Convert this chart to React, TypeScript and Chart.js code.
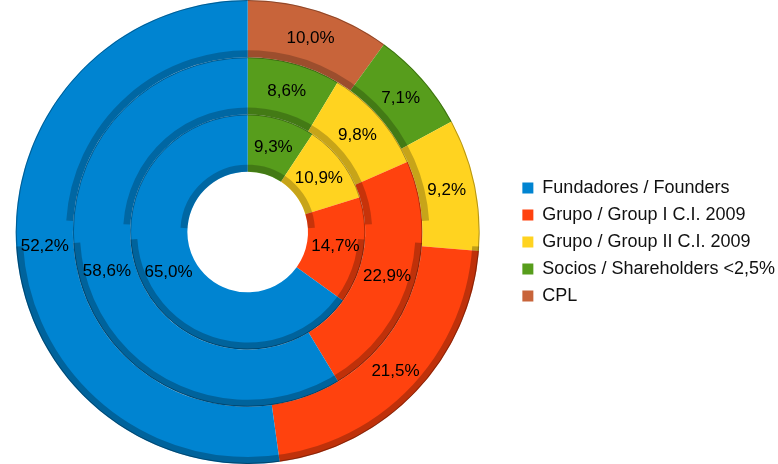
import React, { useEffect, useRef } from 'react';
import { Chart, registerables } from 'chart.js';

Chart.register(...registerables);

const categories = [
  'Fundadores / Founders',
  'Grupo / Group I C.I. 2009',
  'Grupo / Group II C.I. 2009',
  'Socios / Shareholders <2,5%',
  'CPL',
];
const colors = ['#0084d1', '#ff420e', '#ffd320', '#579d1c', '#c8643a'];
const outerValues = [52.2, 21.5, 9.2, 7.1, 10.0];
const middleValues = [58.6, 22.9, 9.8, 8.6, 0];
const innerValues = [65.0, 14.7, 10.9, 9.3, 0];

// LibreOffice draws counter-clockwise; Chart.js clockwise -> reverse order
const rev = <T,>(a: T[]) => a.slice().reverse();

const shadePlugin = {
  id: 'ringShade',
  afterDatasetsDraw(chart: any) {
    const ctx = chart.ctx;
    ctx.save();
    chart.data.datasets.forEach((_: any, di: number) => {
      const meta = chart.getDatasetMeta(di);
      const arc: any = meta.data[0];
      if (!arc) return;
      const { x, y, innerRadius, outerRadius } = arc;
      // inner wall shading (top)
      ctx.beginPath();
      ctx.arc(x, y, innerRadius + 3.5, Math.PI * 1.02, Math.PI * 1.98);
      ctx.lineWidth = 7;
      ctx.strokeStyle = 'rgba(0,0,0,0.22)';
      ctx.stroke();
      // outer wall shading (bottom)
      ctx.beginPath();
      ctx.arc(x, y, outerRadius - 3.5, Math.PI * 0.02, Math.PI * 0.98);
      ctx.lineWidth = 7;
      ctx.strokeStyle = 'rgba(0,0,0,0.25)';
      ctx.stroke();
      // thin separation line
      ctx.beginPath();
      ctx.arc(x, y, outerRadius - 0.5, 0, Math.PI * 2);
      ctx.lineWidth = 1;
      ctx.strokeStyle = 'rgba(0,0,0,0.3)';
      ctx.stroke();
    });
    ctx.restore();
  },
};

const labelPlugin = {
  id: 'sliceLabels',
  afterDatasetsDraw(chart: any) {
    const ctx = chart.ctx;
    ctx.save();
    ctx.font = '17px "Liberation Sans", Arial, sans-serif';
    ctx.fillStyle = '#000';
    ctx.textAlign = 'center';
    ctx.textBaseline = 'middle';
    chart.data.datasets.forEach((ds: any, di: number) => {
      const meta = chart.getDatasetMeta(di);
      meta.data.forEach((arc: any, i: number) => {
        const v = ds.data[i];
        if (!v) return;
        const p = arc.tooltipPosition();
        ctx.fillText(v.toFixed(1).replace('.', ',') + '%', p.x, p.y);
      });
    });
    ctx.restore();
  },
};

export default function App() {
  const ref = useRef<HTMLCanvasElement>(null);
  useEffect(() => {
    if (!ref.current) return;
    const mk = (vals: number[]) => ({
      data: rev(vals),
      backgroundColor: rev(colors),
      borderWidth: 0,
    });
    const chart = new Chart(ref.current, {
      type: 'doughnut',
      data: {
        labels: rev(categories),
        datasets: [mk(outerValues), mk(middleValues), mk(innerValues)],
      },
      options: {
        animation: false,
        responsive: true,
        maintainAspectRatio: false,
        cutout: '26%',
        plugins: {
          tooltip: { enabled: false },
          title: { display: false },
          legend: {
            position: 'right',
            reverse: true,
            title: { display: true, text: ' ', font: { size: 10 }, padding: 4 },
            labels: {
              boxWidth: 11,
              boxHeight: 11,
              padding: 9,
              color: '#111',
              font: { size: 18, family: '"Liberation Sans", Arial, sans-serif' },
            },
          },
        },
      },
      plugins: [shadePlugin, labelPlugin],
    });
    return () => chart.destroy();
  }, []);
  return (
    <div style={{ position: 'absolute', left: 0, top: 0, width: 778, height: 464, overflow: 'hidden' }}>
      <div style={{ position: 'absolute', left: -18, top: 0, width: 803, height: 464 }}>
        <canvas ref={ref} />
      </div>
    </div>
  );
}
